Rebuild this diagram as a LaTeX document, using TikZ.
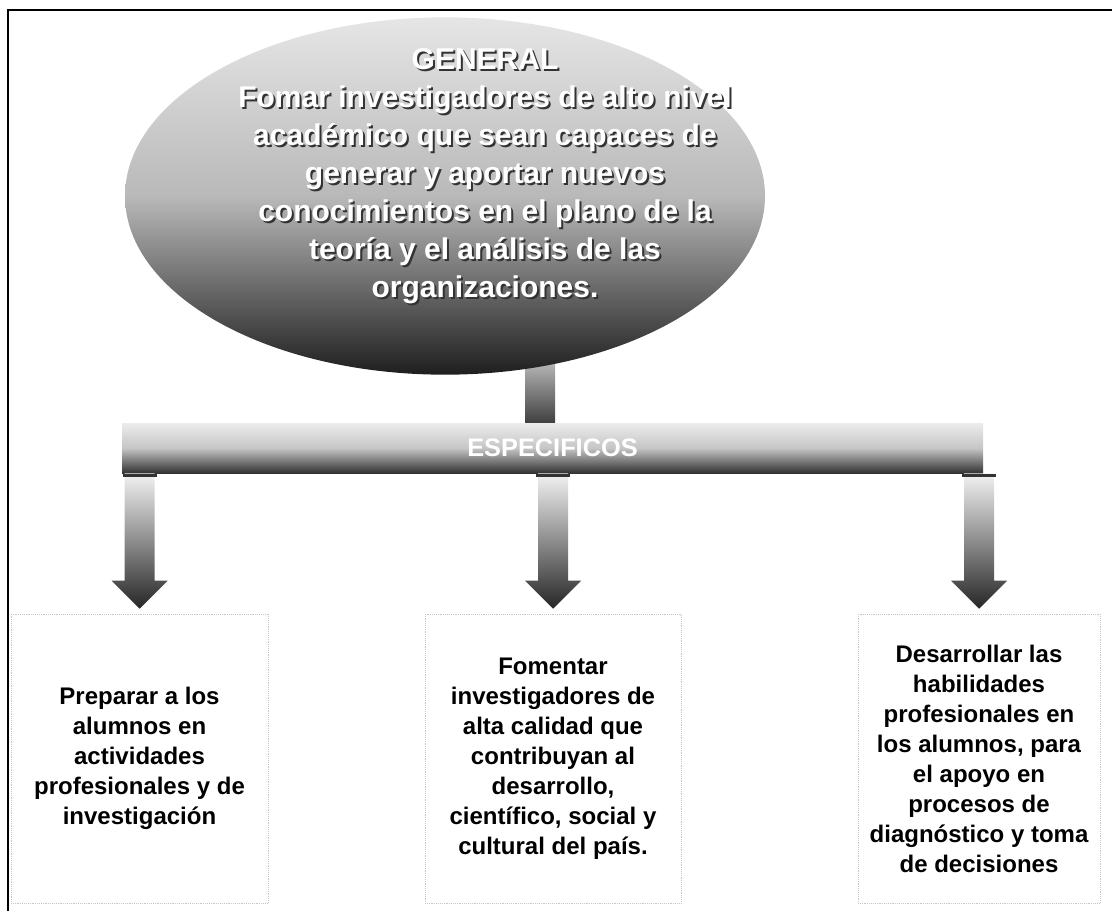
\documentclass[tikz,border=0pt]{standalone}
\usepackage{fontspec}
\setmainfont{Liberation Sans}
\usetikzlibrary{shapes.geometric,backgrounds,calc}

\newcommand{\objgeneral}{GENERAL\\ Fomar investigadores de alto nivel\\ académico que sean capaces de\\ generar y aportar nuevos\\ conocimientos en el plano de la\\ teoría y el análisis de las\\ organizaciones.}

\tikzset{
  goalshape/.style={ellipse, minimum width=480pt, minimum height=268pt, inner sep=0pt, top color=gray!20, bottom color=black!88, middle color=gray!55},
  goaltext/.style={text=white, align=center, inner sep=0pt, font=\fontsize{22.5}{28.5}\selectfont\bfseries},
  shadowtext/.style={goaltext, text=black!80},
  barshape/.style={rectangle, minimum width=645.75pt, minimum height=37.5pt, inner sep=0pt, top color=gray!15, bottom color=black!80, middle color=gray!45, text=white, font=\fontsize{19}{20}\selectfont\bfseries},
  objbox/.style={rectangle, draw=gray!45, densely dotted, minimum height=216.75pt, align=center, font=\fontsize{18}{22.5}\selectfont\bfseries},
  stemshade/.style={top color=gray!45, bottom color=black!75},
  arrowshade/.style={top color=gray!10, bottom color=black!85}
}

\begin{document}
\begin{tikzpicture}[x=0.75pt,y=-0.75pt]
	\useasboundingbox (0,0) rectangle (1112,911);
	\draw[line width=1.2pt] (1112,10) -- (8,10) -- (8,911);

	\node[goalshape] (goal) at (445,196) {};
	\node[shadowtext] (gshadow) at (487,178) {\objgeneral};
	\node[goaltext] (gtext) at (485,176) {\objgeneral};

	\node[barshape] (bar) at (552.5,448) {ESPECIFICOS};

	\node[objbox, minimum width=192.75pt] (lbox) at (139.5,758.5) {Preparar a los\\ alumnos en\\ actividades\\ profesionales y de\\ investigación};
	\node[objbox, minimum width=192pt] (mbox) at (553,758.5) {Fomentar\\ investigadores de\\ alta calidad que\\ contribuyan al\\ desarrollo,\\ científico, social y\\ cultural del país.};
	\node[objbox, minimum width=181.5pt] (rbox) at (979,758.5) {Desarrollar las\\ habilidades\\ profesionales en\\ los alumnos, para\\ el apoyo en\\ procesos de\\ diagnóstico y toma\\ de decisiones};

	\begin{scope}[on background layer]
		\shade[stemshade] ($(bar.north)+(-27.5,0)$) rectangle ($(bar.north |- goal.south)+(2.5,-20)$);
	\end{scope}

	\foreach \b in {lbox,mbox,rbox}{
		\coordinate (top) at (bar.south -| \b.north);
		\coordinate (tip) at ($(\b.north)+(0,-5)$);
		\shade[arrowshade] ($(top)+(-15,0)$) -- ($(top)+(15,0)$) -- ($(tip)+(15,-28)$) -- ($(tip)+(28,-28)$) -- (tip) -- ($(tip)+(-28,-28)$) -- ($(tip)+(-15,-28)$) -- cycle;
		\draw[line width=2pt, black!80] ($(top)+(-17,2)$) -- ($(top)+(17,2)$);
	}
\end{tikzpicture}
\end{document}
